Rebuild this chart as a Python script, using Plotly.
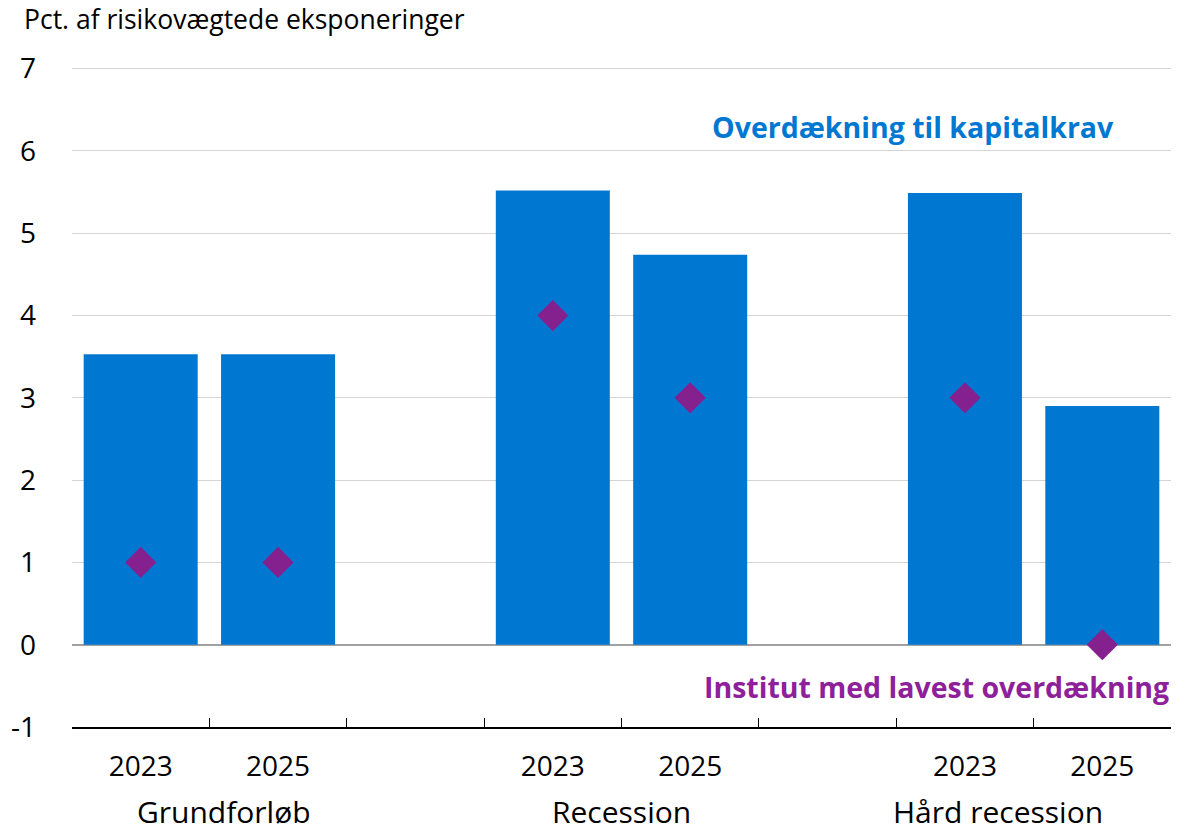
import plotly.graph_objects as go

# Data
groups = ["Grundforløb", "Recession", "Hård recession"]
years = ["2023", "2025"]
categories = ["Grundforløb 2023", "Grundforløb 2025", "gap1",
              "Recession 2023", "Recession 2025", "gap2",
              "Hård recession 2023", "Hård recession 2025"]
tick_labels = ["2023", "2025", "", "2023", "2025", "", "2023", "2025"]
overdaekning = [3.53, 3.53, None, 5.52, 4.74, None, 5.49, 2.90]
lavest = [1, 1, None, 4, 3, None, 3, 0]
y_ticks = [-1, 0, 1, 2, 3, 4, 5, 6, 7]
y_tick_labels = ["-1", "0", "1", "2", "3", "4", "5", "6", "7"]

BLUE = "#0078d2"
PURPLE = "#85208f"
PURPLE_TXT = "#8e219a"
FONT = "Open Sans"
BOLD_FONT = "Open Sans"

fig = go.Figure()
fig.add_trace(go.Bar(x=categories, y=overdaekning, marker=dict(color=BLUE, line=dict(width=0)),
                     width=0.83, name="Overdækning til kapitalkrav", showlegend=False))
fig.add_trace(go.Scatter(x=categories, y=lavest, mode="markers",
                         marker=dict(symbol="diamond", size=24, color=PURPLE),
                         name="Institut med lavest overdækning", showlegend=False))

# group labels under each pair (with the small offsets seen in the original)
group_shift = [15, 0, -36]
for g, sh in zip(groups, group_shift):
    idx = [i for i, c in enumerate(categories) if c.startswith(g + " ")]
    fig.add_annotation(x=sum(idx) / len(idx), y=0, xref="x", yref="paper", yshift=-84, xshift=sh,
                       text=g, showarrow=False, font=dict(family=FONT, size=30, color="#000"),
                       yanchor="middle")

fig.add_annotation(text="<b>Overdækning til kapitalkrav</b>", x=1, xref="x domain", xanchor="right",
                   xshift=-55, y=6.29, yref="y", yanchor="middle", showarrow=False,
                   font=dict(family=BOLD_FONT, size=28.5, color=BLUE))
fig.add_annotation(text="<b>Institut med lavest overdækning</b>", x=1, xref="x domain", xanchor="right",
                   xshift=0, y=-0.51, yref="y", yanchor="middle", showarrow=False,
                   font=dict(family=BOLD_FONT, size=28.5, color=PURPLE_TXT))

fig.add_annotation(text="Pct. af risikovægtede eksponeringer", x=0, xref="paper", xanchor="left",
                   y=1, yref="paper", yanchor="middle", yshift=48, xshift=-50, showarrow=False,
                   font=dict(family=FONT, size=26.5, color="#000"))

fig.update_layout(
    width=1194, height=828,
    margin=dict(l=72, r=23, t=67.4, b=101),
    plot_bgcolor="white", paper_bgcolor="white",
    font=dict(family=FONT, size=28, color="#000"),
    xaxis=dict(type="category", categoryorder="array", categoryarray=categories,
               tickvals=categories, ticktext=tick_labels, tickson="boundaries",
               ticks="inside", ticklen=9, tickcolor="#000", tickwidth=1,
               showline=True, linecolor="#000", linewidth=1.5, showgrid=False,
               range=[-0.5, len(categories) - 0.5], ticklabelstandoff=14, automargin=False),
    yaxis=dict(range=[-1, 7.02], tickvals=y_ticks, ticktext=y_tick_labels,
               showgrid=True, gridcolor="#d4d4d4", gridwidth=1,
               zeroline=True, zerolinecolor="#a0a0a0", zerolinewidth=1.5,
               ticks="", ticklabelstandoff=35, showline=False, automargin=False),
)

fig.write_html("out.html", post_script="document.body.style.margin='0';",
               config={"displayModeBar": False})
